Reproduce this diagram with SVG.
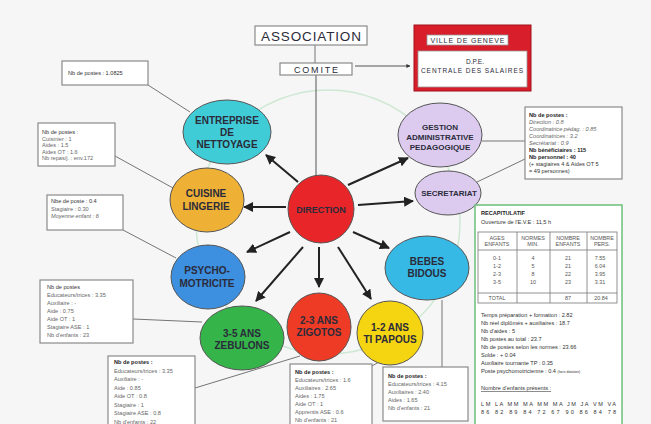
<svg xmlns="http://www.w3.org/2000/svg" width="651" height="424" viewBox="0 0 651 424">
<defs>
<marker id="ah" viewBox="0 0 10 10" refX="9" refY="5" markerWidth="5" markerHeight="5" orient="auto-start-reverse" markerUnits="strokeWidth">
<path d="M0,0 L10,5 L0,10 z" fill="#222"/>
</marker>
<marker id="ahs" viewBox="0 0 10 10" refX="9" refY="5" markerWidth="4" markerHeight="4" orient="auto" markerUnits="strokeWidth">
<path d="M0,0 L10,5 L0,10 z" fill="#333"/>
</marker>
</defs>
<style>
.nd{stroke:#555;stroke-width:1}
.lb{font-family:"Liberation Sans",Arial,sans-serif;font-weight:bold;fill:#2b2b3a;text-anchor:middle}
.lbn{font-family:"Liberation Sans",Arial,sans-serif;fill:#2b2b3a;text-anchor:middle}
.bx{fill:#fff;stroke:#8a8a8a;stroke-width:1.2}
.t{font-family:"Liberation Sans",Arial,sans-serif;font-size:5.6px;fill:#666}
.ti{font-family:"Liberation Sans",Arial,sans-serif;font-size:5.6px;fill:#666;font-style:italic}
.tb{font-family:"Liberation Sans",Arial,sans-serif;font-size:5.6px;fill:#222;font-weight:bold}
.tn{font-family:"Liberation Sans",Arial,sans-serif;font-size:5.6px;fill:#333}
.ar{stroke:#222;stroke-width:2;fill:none;marker-end:url(#ah)}
.ln{stroke:#666;stroke-width:0.9;fill:none}
.tt{font-family:"Liberation Sans",Arial,sans-serif;font-size:5.4px;fill:#555;text-anchor:middle}
</style>
<rect width="651" height="424" fill="#f6f6f6"/>
<circle cx="328" cy="222" r="132" fill="none" stroke="#cfe8d4" stroke-width="1.5"/>

<g id="connectors">
<line class="ln" x1="315" y1="44" x2="315" y2="63"/>
<line x1="316" y1="75" x2="316" y2="180" stroke="#555" stroke-width="1" marker-end="url(#ahs)"/>
<line x1="355" y1="66" x2="410" y2="66" stroke="#555" stroke-width="1" marker-end="url(#ahs)"/>
<line class="ar" x1="298" y1="182" x2="266" y2="155"/>
<line class="ar" x1="286" y1="207" x2="244" y2="207"/>
<line class="ar" x1="290" y1="232" x2="247" y2="252"/>
<line class="ar" x1="303" y1="247" x2="256" y2="301"/>
<line class="ar" x1="319" y1="247" x2="319" y2="287"/>
<line class="ar" x1="338" y1="247" x2="371" y2="299"/>
<line class="ar" x1="353" y1="232" x2="389" y2="248"/>
<line class="ar" x1="358" y1="205" x2="413" y2="201"/>
<line class="ar" x1="348" y1="185" x2="408" y2="158"/>
<line class="ln" x1="148" y1="85" x2="190" y2="112"/>
<line class="ln" x1="115" y1="156" x2="173" y2="188"/>
<line class="ln" x1="123" y1="230" x2="176" y2="258"/>
<line class="ln" x1="133" y1="319" x2="202" y2="322"/>
<line class="ln" x1="195" y1="388" x2="300" y2="356"/>
<line class="ln" x1="372" y1="366" x2="384" y2="359"/>
<line class="ln" x1="442" y1="300" x2="442" y2="367"/>
<line class="ln" x1="482" y1="141" x2="525" y2="141"/>
<line class="ln" x1="477" y1="182" x2="525" y2="159"/>
</g>

<g id="association">
<rect x="255" y="26" width="112" height="19" class="bx" stroke="#777"/>
<text x="311" y="41" class="lbn" font-size="13.5" textLength="100" fill="#333">ASSOCIATION</text>
</g>
<g id="comite">
<rect x="280" y="63" width="72" height="12" class="bx"/>
<text x="316" y="73" class="lbn" font-size="9" textLength="44">COMITE</text>
</g>
<g id="ville">
<rect x="414" y="25" width="117" height="66" fill="#d81e2a" stroke="#a01018" stroke-width="1"/>
<rect x="427" y="35" width="81" height="10" fill="#fff" stroke="#999" stroke-width="0.8"/>
<text x="467.5" y="43" class="lbn" font-size="7" textLength="74">VILLE DE GENEVE</text>
<rect x="418" y="51" width="109" height="36" fill="#fff" stroke="#999" stroke-width="0.8"/>
<text x="475" y="64" class="lbn" font-size="6.5">D.P.E.</text>
<text x="472" y="73" class="lbn" font-size="6.5" textLength="102">CENTRALE DES SALAIRES</text>
</g>

<g id="entreprise">
<ellipse cx="227" cy="132" rx="44" ry="32" fill="#40ccd6" class="nd"/>
<text class="lb" font-size="10" x="227" y="124">ENTREPRISE</text>
<text class="lb" font-size="10" x="227" y="136">DE</text>
<text class="lb" font-size="10" x="227" y="148">NETTOYAGE</text>
</g>
<g id="cuisine">
<ellipse cx="207" cy="200" rx="37" ry="32" fill="#efb036" class="nd"/>
<text class="lb" font-size="10" x="206" y="197">CUISINE</text>
<text class="lb" font-size="10" x="206" y="210">LINGERIE</text>
</g>
<g id="psycho">
<ellipse cx="208" cy="277" rx="37" ry="32" fill="#3d8fdf" class="nd"/>
<text class="lb" font-size="10" x="207" y="274">PSYCHO-</text>
<text class="lb" font-size="10" x="207" y="287">MOTRICITE</text>
</g>
<g id="zebulons">
<ellipse cx="242" cy="338" rx="42" ry="32" fill="#35b44a" class="nd"/>
<text class="lb" font-size="10" x="242" y="337">3-5 ANS</text>
<text class="lb" font-size="10" x="242" y="349">ZEBULONS</text>
</g>
<g id="zigotos">
<ellipse cx="319" cy="327" rx="32" ry="34" fill="#ee3b25" class="nd"/>
<text class="lb" font-size="10" x="319" y="324">2-3 ANS</text>
<text class="lb" font-size="10" x="319" y="336">ZIGOTOS</text>
</g>
<g id="tipapous">
<ellipse cx="390" cy="333" rx="33" ry="32" fill="#f5d511" class="nd"/>
<text class="lb" font-size="10" x="390" y="331">1-2 ANS</text>
<text class="lb" font-size="10" x="390" y="343">TI PAPOUS</text>
</g>
<g id="bebes">
<ellipse cx="427" cy="268" rx="42" ry="32" fill="#36b9e4" class="nd"/>
<text class="lb" font-size="10" x="427" y="265">BEBES</text>
<text class="lb" font-size="10" x="427" y="277">BIDOUS</text>
</g>
<g id="secretariat">
<ellipse cx="448" cy="193" rx="33" ry="22" fill="#dccbef" class="nd"/>
<text class="lb" font-size="8" x="449" y="196">SECRETARIAT</text>
</g>
<g id="gestion">
<ellipse cx="440" cy="135" rx="42" ry="32" fill="#dccbef" class="nd"/>
<text class="lb" font-size="8" x="440" y="130">GESTION</text>
<text class="lb" font-size="8" x="440" y="140">ADMINISTRATIVE</text>
<text class="lb" font-size="8" x="440" y="150">PEDAGOGIQUE</text>
</g>
<g id="direction">
<ellipse cx="321" cy="209" rx="33" ry="34" fill="#e8262a" class="nd"/>
<text class="lb" font-size="9" x="321" y="213">DIRECTION</text>
</g>

<g id="box-entreprise">
<rect x="62" y="61" width="86" height="24" class="bx"/>
<text class="tn" x="68" y="75">Nb de postes : 1.0825</text>
</g>
<g id="box-cuisine">
<rect x="38" y="123" width="77" height="43" class="bx"/>
<text class="tn" x="42" y="134">Nb de postes :</text>
<text class="t" x="42" y="140.5">Cuisinier : 1</text>
<text class="t" x="42" y="147">Aides : 1.5</text>
<text class="t" x="42" y="153.5">Aides OT : 1.6</text>
<text class="t" x="42" y="160">Nb repas/j. : env.172</text>
</g>
<g id="box-psycho">
<rect x="47" y="195" width="76" height="35" class="bx"/>
<text class="tn" x="51" y="203">Nbe de poste : 0.4</text>
<text class="t" x="51" y="210.5">Stagiaire : 0.30</text>
<text class="ti" x="51" y="218">Moyenne enfant : 6</text>
</g>
<g id="box-zebulons">
<rect x="40" y="280" width="93" height="63" class="bx"/>
<text class="tn" x="47" y="289">Nb de postes</text>
<text class="t" x="47" y="297">Educateurs/trices : 3.35</text>
<text class="t" x="47" y="305">Auxiliaire : -</text>
<text class="t" x="47" y="313">Aide : 0.75</text>
<text class="t" x="47" y="321">Aide OT : 1</text>
<text class="t" x="47" y="329">Stagiaire ASE : 1</text>
<text class="t" x="47" y="337">Nb d'enfants : 23</text>
</g>
<g id="box-zebulons2">
<rect x="108" y="356" width="87" height="72" class="bx"/>
<text class="tb" x="114" y="364">Nb de postes :</text>
<text class="t" x="114" y="372.5">Educateurs/trices : 3.35</text>
<text class="t" x="114" y="381">Auxiliaire : -</text>
<text class="t" x="114" y="389.5">Aide : 0.85</text>
<text class="t" x="114" y="398">Aide OT : 0.8</text>
<text class="t" x="114" y="406.5">Stagiaire : 1</text>
<text class="t" x="114" y="415">Stagiaire ASE : 0.8</text>
<text class="t" x="114" y="423.5">Nb d'enfants : 22</text>
</g>
<g id="box-zigotos">
<rect x="290" y="364" width="82" height="64" class="bx"/>
<text class="tb" x="295" y="374">Nb de postes :</text>
<text class="t" x="295" y="382">Educateurs/trices : 1.6</text>
<text class="t" x="295" y="390">Auxiliaires : 2.65</text>
<text class="t" x="295" y="398">Aides : 1.75</text>
<text class="t" x="295" y="406">Aide OT : 1</text>
<text class="t" x="295" y="414">Apprentis ASE : 0.6</text>
<text class="t" x="295" y="422">Nb d'enfants : 21</text>
</g>
<g id="box-tipapous">
<rect x="383" y="367" width="85" height="54" class="bx"/>
<text class="tb" x="388" y="378">Nb de postes :</text>
<text class="t" x="388" y="386">Educateurs/trices : 4.15</text>
<text class="t" x="388" y="394">Auxiliaires : 2.40</text>
<text class="t" x="388" y="402">Aides : 1.65</text>
<text class="t" x="388" y="410">Nb d'enfants : 21</text>
</g>
<g id="box-gestion">
<rect x="525" y="107" width="97" height="72" class="bx"/>
<text class="tb" x="529" y="117">Nb de postes :</text>
<text class="ti" x="529" y="124">Direction : 0.8</text>
<text class="ti" x="529" y="131">Coordinatrice pédag. : 0.85</text>
<text class="ti" x="529" y="138">Coordinatrices : 3.2</text>
<text class="ti" x="529" y="145">Secrétariat : 0.9</text>
<text class="tb" x="529" y="152">Nb bénéficiaires : 115</text>
<text class="tb" x="529" y="159">Nb personnel : 40</text>
<text class="tn" x="529" y="166">(+ stagiaires 4 &amp; Aides OT 5</text>
<text class="tn" x="529" y="173">= 49 personnes)</text>
</g>

<g id="recapitulatif">
<rect x="475" y="205" width="147" height="225" fill="#fff" stroke="#6cc07a" stroke-width="1.5"/>
<text class="tb" x="481" y="215">RECAPITULATIF</text>
<text class="tn" x="481" y="224">Ouverture de l'E.V.E : 11,5 h</text>
<g fill="none" stroke="#777" stroke-width="0.8">
<rect x="478" y="232" width="139" height="71"/>
<line x1="478" y1="250" x2="617" y2="250"/>
<line x1="478" y1="293" x2="617" y2="293"/>
<line x1="517" y1="232" x2="517" y2="303"/>
<line x1="550" y1="232" x2="550" y2="303"/>
<line x1="587" y1="232" x2="587" y2="303"/>
</g>
<text class="tt" x="497" y="240">AGES</text>
<text class="tt" x="497" y="246">ENFANTS</text>
<text class="tt" x="533" y="240">NORMES</text>
<text class="tt" x="533" y="246">MIN.</text>
<text class="tt" x="568" y="240">NOMBRE</text>
<text class="tt" x="568" y="246">ENFANTS</text>
<text class="tt" x="602" y="240">NOMBRE</text>
<text class="tt" x="602" y="246">PERS.</text>
<text class="tt" x="497" y="260">0-1</text><text class="tt" x="497" y="268">1-2</text><text class="tt" x="497" y="276">2-3</text><text class="tt" x="497" y="284">3-5</text>
<text class="tt" x="533" y="260">4</text><text class="tt" x="533" y="268">5</text><text class="tt" x="533" y="276">8</text><text class="tt" x="533" y="284">10</text>
<text class="tt" x="568" y="260">21</text><text class="tt" x="568" y="268">21</text><text class="tt" x="568" y="276">22</text><text class="tt" x="568" y="284">23</text>
<text class="tt" x="600" y="260">7.55</text><text class="tt" x="600" y="268">6.04</text><text class="tt" x="600" y="276">3.95</text><text class="tt" x="600" y="284">3.31</text>
<text class="tt" x="497" y="300">TOTAL</text>
<text class="tt" x="568" y="300">87</text>
<text class="tt" x="601" y="300">20.84</text>
<text class="tn" x="481" y="317">Temps préparation + formation : 2.82</text>
<text class="tn" x="481" y="325">Nb réel diplômés + auxiliaires : 18.7</text>
<text class="tn" x="481" y="333">Nb d'aides : 5</text>
<text class="tn" x="481" y="341">Nb postes au total : 23.7</text>
<text class="tn" x="481" y="349">Nb de postes selon les normes : 23.66</text>
<text class="tn" x="481" y="357">Solde : + 0.04</text>
<text class="tn" x="481" y="365">Auxiliaire tournante TP : 0.35</text>
<text class="tn" x="481" y="373">Poste psychomotricienne : 0.4 <tspan font-size="3.5">(hors dotation)</tspan></text>
<text class="tn" x="481" y="390" text-decoration="underline">Nombre d'enfants présents :</text>
<text class="tn" x="481" y="406" textLength="135">LM LA MM MA MM MA JM JA VM VA</text>
<text class="tn" x="481" y="414" textLength="135">86 82 89 84 72 67 90 86 84 78</text>
</g>
</svg>
